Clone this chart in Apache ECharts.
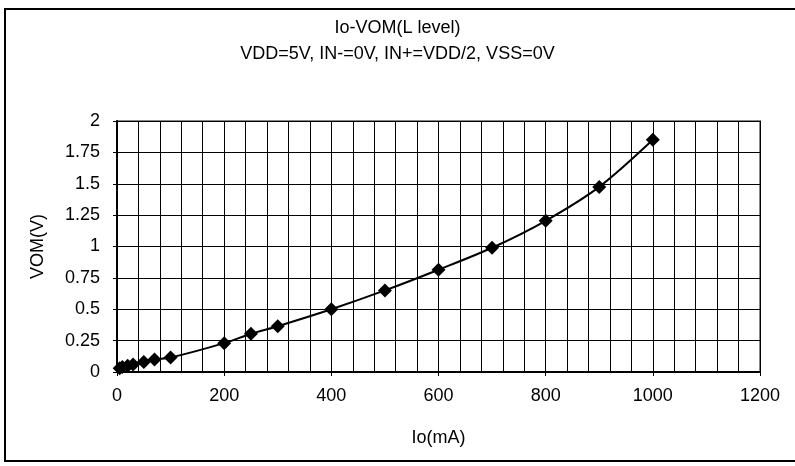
<!DOCTYPE html>
<html>
<head>
<meta charset="utf-8">
<script src="https://cdn.jsdelivr.net/npm/echarts@6/dist/echarts.min.js"></script>
<style>
html,body{margin:0;padding:0;background:#fff;}
#c{width:795px;height:466px;}
</style>
</head>
<body>
<div id="c"></div>
<script>
var titleLines = ['Io-VOM(L level)', 'VDD=5V, IN-=0V, IN+=VDD/2, VSS=0V'];
var xName = 'Io(mA)';
var yName = 'VOM(V)';
var ioValues = [5, 10, 20, 30, 50, 70, 100, 200, 250, 300, 400, 500, 600, 700, 800, 900, 1000];
var vomValues = [0.03, 0.04, 0.05, 0.06, 0.08, 0.10, 0.115, 0.23, 0.305, 0.365, 0.50, 0.65, 0.815, 0.99, 1.205, 1.475, 1.85];

var chart = echarts.init(document.getElementById('c'), null, {renderer: 'canvas'});
var pts = ioValues.map(function (x, i) { return [x, vomValues[i]]; });
var lblFont = {color: '#000', fontSize: 18, fontFamily: 'Liberation Sans'};

chart.setOption({
  backgroundColor: '#fff',
  animation: false,
  graphic: [{
    type: 'rect',
    shape: {x: 5, y: 9, width: 800, height: 452},
    style: {fill: 'none', stroke: '#000', lineWidth: 2},
    z: 100
  }],
  title: {
    text: titleLines.join('\n'),
    left: 'center',
    top: 10,
    textStyle: {color: '#000', fontSize: 18, fontWeight: 'normal', fontFamily: 'Liberation Sans', lineHeight: 26}
  },
  grid: {
    left: 117, right: 35, top: 121, bottom: 94,
    show: true, borderColor: '#888', borderWidth: 2, backgroundColor: '#fff'
  },
  xAxis: {
    type: 'value', min: 0, max: 1200, interval: 200,
    name: xName, nameLocation: 'middle', nameGap: 57,
    nameTextStyle: {color: '#000', fontSize: 18, fontFamily: 'Liberation Sans'},
    axisLine: {show: true, onZero: false, lineStyle: {color: '#000', width: 2}},
    axisTick: {show: true, inside: false, length: 4, lineStyle: {color: '#000'}},
    axisLabel: Object.assign({margin: 15, formatter: function (v) { return String(v); }}, lblFont),
    splitLine: {show: true, lineStyle: {color: '#000', width: 1}},
    minorTick: {show: false, splitNumber: 5},
    minorSplitLine: {show: true, lineStyle: {color: '#000', width: 1}}
  },
  yAxis: {
    type: 'value', min: 0, max: 2, interval: 0.25,
    name: yName, nameLocation: 'middle', nameGap: 70, nameRotate: 90,
    nameTextStyle: {color: '#000', fontSize: 18, fontFamily: 'Liberation Sans'},
    axisLine: {show: true, onZero: false, lineStyle: {color: '#000', width: 2}},
    axisTick: {show: true, inside: false, length: 4, lineStyle: {color: '#000'}},
    axisLabel: Object.assign({margin: 17}, lblFont),
    splitLine: {show: true, lineStyle: {color: '#000', width: 1}}
  },
  series: [{
    type: 'line',
    data: pts,
    smooth: 0.3,
    symbol: 'diamond',
    symbolSize: 14,
    itemStyle: {color: '#000'},
    lineStyle: {color: '#000', width: 2}
  }]
});
</script>
</body>
</html>
